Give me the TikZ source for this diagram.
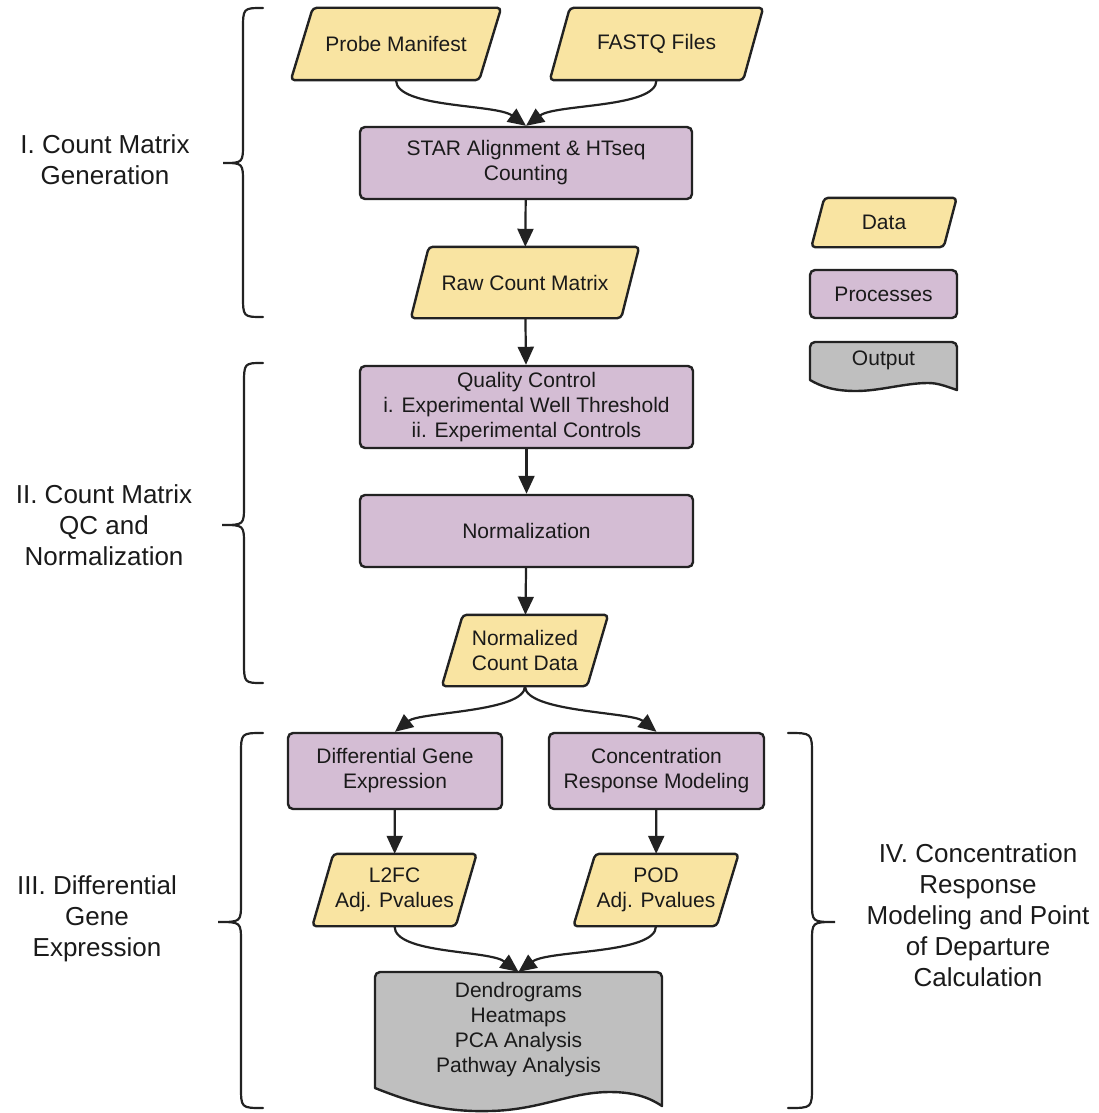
\documentclass[tikz,border=0pt]{standalone}
\usepackage{fontspec}
\setmainfont{Liberation Sans}
\usetikzlibrary{arrows.meta,backgrounds}
\definecolor{dataY}{HTML}{F9E4A2}
\definecolor{procP}{HTML}{D4BDD4}
\definecolor{outG}{HTML}{BFBFBF}
\definecolor{edgec}{HTML}{222222}
\definecolor{txtc}{HTML}{1A1A1A}
\tikzset{
  every node/.style={text=txtc, font=\fontsize{21}{25}\selectfont, align=center, inner sep=0pt},
  proc/.style={draw=edgec, line width=2.4pt, fill=procP, rounded corners=5pt},
  paraframe/.style={draw=edgec, line width=2.4pt, fill=dataY, rounded corners=4pt, line join=round},
  docframe/.style={draw=edgec, line width=2.4pt, fill=outG, line join=round},
  side/.style={font=\fontsize{26}{31}\selectfont},
  arr/.style={draw=edgec, line width=2.2pt, -{Triangle[length=18pt,width=16pt]}},
  brc/.style={draw=edgec, line width=2.2pt, line cap=round},
}
\newcommand\drawpara[2]{%
  \begin{scope}[on background layer]
  \path[paraframe] ([xshift=#2]#1.north west) -- ([xshift=#2]#1.north east)
    -- ([xshift=-#2]#1.south east) -- ([xshift=-#2]#1.south west) -- cycle;
  \end{scope}}
\newcommand\mybrace[6]{%
  \draw[brc] (#1,#4) .. controls (#2,#4) .. (#2,{#4+22}) -- (#2,{#5-20})
    .. controls (#2,#5) .. (#3,#5) .. controls (#2,#5) .. (#2,{#5+20})
    -- (#2,{#6-22}) .. controls (#2,#6) .. (#1,#6);}
\begin{document}
\begin{tikzpicture}[x=1pt,y=-1pt]
\useasboundingbox (0,0) rectangle (1099,1113);

% data nodes (parallelograms)
\node[minimum width=188pt, minimum height=72pt] (pm) at (396,44) {Probe Manifest};
\drawpara{pm}{11pt}
\node[minimum width=193pt, minimum height=72pt] (fq) at (656.5,44) {FASTQ Files};
\drawpara{fq}{10pt}
\node[minimum width=210pt, minimum height=71pt] (raw) at (525,282.5) {Raw Count Matrix};
\drawpara{raw}{9pt}
\node[minimum width=145pt, minimum height=71pt] (ncd) at (525,650.5) {Normalized\\Count Data};
\drawpara{ncd}{10.5pt}
\node[minimum width=143pt, minimum height=72pt] (l2fc) at (394.5,890) {L2FC\\Adj. Pvalues};
\drawpara{l2fc}{10.5pt}
\node[minimum width=143pt, minimum height=72pt] (pod) at (656,890) {POD\\Adj. Pvalues};
\drawpara{pod}{11pt}

% process nodes
\node[proc, minimum width=332pt, minimum height=72pt] (star) at (526,163) {STAR Alignment \& HTseq\\Counting};
\node[proc, minimum width=333pt, minimum height=82pt] (qc) at (526.5,407) {Quality Control\\i. Experimental Well Threshold\\ii. Experimental Controls};
\node[proc, minimum width=333pt, minimum height=72pt] (norm) at (526.5,531) {Normalization};
\node[proc, minimum width=214pt, minimum height=76pt] (dge) at (395,771) {Differential Gene\\Expression};
\node[proc, minimum width=215pt, minimum height=76pt] (crm) at (656.5,771) {Concentration\\Response Modeling};

% output document
\path[docframe] (375,1088) [rounded corners=5pt] -- (375,972) -- (662,972) [sharp corners] -- (662,1106)
  .. controls (650,1098) and (635,1092) .. (610,1092)
  .. controls (570,1092) and (540,1110) .. (490,1111)
  .. controls (450,1112) and (420,1106) .. (375,1088) -- cycle;
\node[minimum width=287pt, minimum height=116pt] (out) at (518.5,1030) {Dendrograms\\Heatmaps\\PCA Analysis\\Pathway Analysis};

% legend
\node[minimum width=132pt, minimum height=49pt] (lgdata) at (884,222.5) {Data};
\drawpara{lgdata}{6.5pt}
\node[proc, minimum width=147pt, minimum height=48pt] (lgproc) at (883.5,294) {Processes};
\path[docframe] (810,380) [rounded corners=5pt] -- (810,342) -- (957,342) [sharp corners] -- (957,390)
  .. controls (945,386) and (938,383) .. (928,383)
  .. controls (905,383) and (880,391) .. (856,391)
  .. controls (835,391) and (822,387) .. (810,380) -- cycle;
\node[minimum width=147pt, minimum height=38pt] (lgout) at (883.5,360) {Output};

% connectors
\draw[arr] (pm.south) .. controls +(0,28) and +(-30,-22) .. (star.north);
\draw[arr] (fq.south) .. controls +(0,28) and +(30,-22) .. (star.north);
\draw[arr] (star) -- (raw);
\draw[arr] (raw) -- (qc);
\draw[arr] (qc) -- (norm);
\draw[arr] (norm) -- (ncd);
\draw[arr] (ncd.south) .. controls +(0,26) and +(25,-20) .. (dge.north);
\draw[arr] (ncd.south) .. controls +(0,26) and +(-25,-20) .. (crm.north);
\draw[arr] (dge) -- (l2fc);
\draw[arr] (crm) -- (pod);
\draw[arr] (l2fc.south) .. controls +(0,28) and +(-30,-22) .. (out.north);
\draw[arr] (pod.south) .. controls +(0,28) and +(30,-22) .. (out.north);

% braces
\mybrace{263}{243}{223}{8}{163}{317}
\mybrace{263}{244}{222}{363}{525}{683}
\mybrace{263}{241}{218}{733}{922}{1108}
\mybrace{788}{812}{835}{733}{922}{1108}

% side labels
\node[side] (lab1) at (105,160) {I. Count Matrix\\Generation};
\node[side] (lab2) at (104,525) {II. Count Matrix\\QC and\\Normalization};
\node[side] (lab3) at (97,919) {III. Differential\\Gene\\Expression};
\node[side] (lab4) at (978,915) {IV. Concentration\\Response\\Modeling and Point\\of Departure\\Calculation};
\end{tikzpicture}
\end{document}
